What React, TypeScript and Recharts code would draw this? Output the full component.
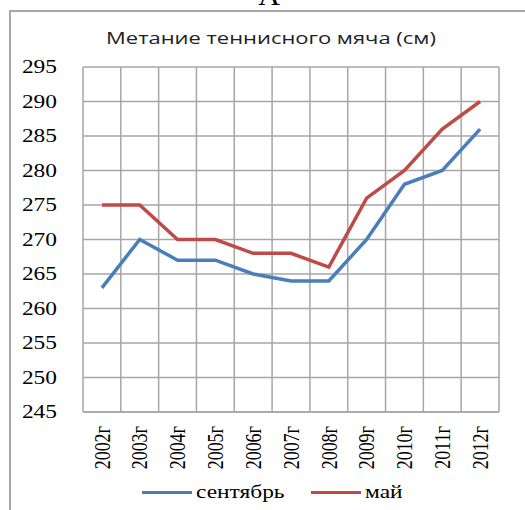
import React from "react";
import {
  LineChart,
  Line,
  XAxis,
  YAxis,
  CartesianGrid,
  ReferenceLine,
  Legend,
} from "recharts";

// данные с графика
const years = ["2002г", "2003г", "2004г", "2005г", "2006г", "2007г", "2008г", "2009г", "2010г", "2011г", "2012г"];
const september = [263, 270, 267, 267, 265, 264, 264, 270, 278, 280, 286];
const may = [275, 275, 270, 270, 268, 268, 266, 276, 280, 286, 290];
const yTicks = [245, 250, 255, 260, 265, 270, 275, 280, 285, 290, 295];

const BLUE = "#4a7ebb";
const RED = "#be4b48";
const GRID = "#a6a6a6";
const SERIF = "Liberation Serif, serif";

const rows = years.map((y, i) => ({ i, year: y, sep: september[i], may: may[i] }));
const bounds = years.map((_, i) => i - 0.5).concat(years.length - 0.5);

const YTick = ({ x, y, payload }: any) => (
  <g transform={`translate(${x},${y})`}>
    <text transform="scale(1.3,1)" textAnchor="end" dy="0.35em" fontFamily={SERIF} fontSize={18} fill="#000">
      {payload.value}
    </text>
  </g>
);

const XTick = ({ x, y, payload }: any) => (
  <g transform={`translate(${x},${y})`}>
    <text transform="scale(1.3,1) rotate(-90)" textAnchor="end" dy="0.33em" fontFamily={SERIF} fontSize={18} fill="#000">
      {years[payload.value]}
    </text>
  </g>
);

const legendItems = [
  { name: "сентябрь", color: BLUE, left: 142 },
  { name: "май", color: RED, left: 311 },
];

const LegendBox = () => (
  <div style={{ position: "relative", width: 525, height: 24, fontFamily: SERIF, fontSize: 18 }}>
    {legendItems.map((it) => (
      <div key={it.name} style={{ position: "absolute", left: it.left, top: 0, height: 24, display: "flex", alignItems: "center" }}>
        <span style={{ display: "inline-block", width: 50, height: 3, background: it.color, marginRight: 4 }} />
        <span style={{ display: "inline-block", transform: "scaleX(1.3)", transformOrigin: "left center", whiteSpace: "nowrap" }}>
          {it.name}
        </span>
      </div>
    ))}
  </div>
);

export default function App() {
  return (
    <div style={{ position: "absolute", left: 0, top: 0, width: 525, height: 510, overflow: "hidden", background: "#fff" }}>
      <div style={{ position: "absolute", left: 0, top: -22, width: 538, textAlign: "center", fontFamily: SERIF, fontSize: 30 }}>
        А
      </div>
      <div style={{ position: "absolute", left: 9, top: 10, width: 530, height: 520, borderLeft: `2px solid ${GRID}`, borderTop: `2px solid ${GRID}` }} />
      <div style={{ position: "absolute", left: 0, top: 26, width: 541, textAlign: "center", fontFamily: "'Open Sans', sans-serif", fontSize: 16.5, color: "#222" }}>
        <span style={{ display: "inline-block", transform: "scaleX(1.33)" }}>Метание теннисного мяча (см)</span>
      </div>
      <LineChart width={525} height={510} data={rows} margin={{ top: 67, right: 26, left: 0, bottom: 6 }}>
        <CartesianGrid vertical={false} stroke={GRID} strokeWidth={1.5} />
        {bounds.map((b) => (
          <ReferenceLine key={b} x={b} stroke={GRID} strokeWidth={1.5} />
        ))}
        <XAxis
          dataKey="i"
          type="number"
          domain={[-0.5, years.length - 0.5]}
          ticks={years.map((_, i) => i)}
          tick={<XTick />}
          tickLine={false}
          axisLine={{ stroke: GRID, strokeWidth: 1.5 }}
          tickMargin={8}
          height={68}
          interval={0}
        />
        <YAxis
          domain={[245, 295]}
          ticks={yTicks}
          tick={<YTick />}
          tickLine={false}
          axisLine={false}
          width={83}
          tickMargin={20}
          interval={0}
        />
        <Legend content={<LegendBox />} />
        <Line dataKey="sep" name="сентябрь" stroke={BLUE} strokeWidth={3.5} dot={false} isAnimationActive={false} />
        <Line dataKey="may" name="май" stroke={RED} strokeWidth={3.5} dot={false} isAnimationActive={false} />
      </LineChart>
    </div>
  );
}
